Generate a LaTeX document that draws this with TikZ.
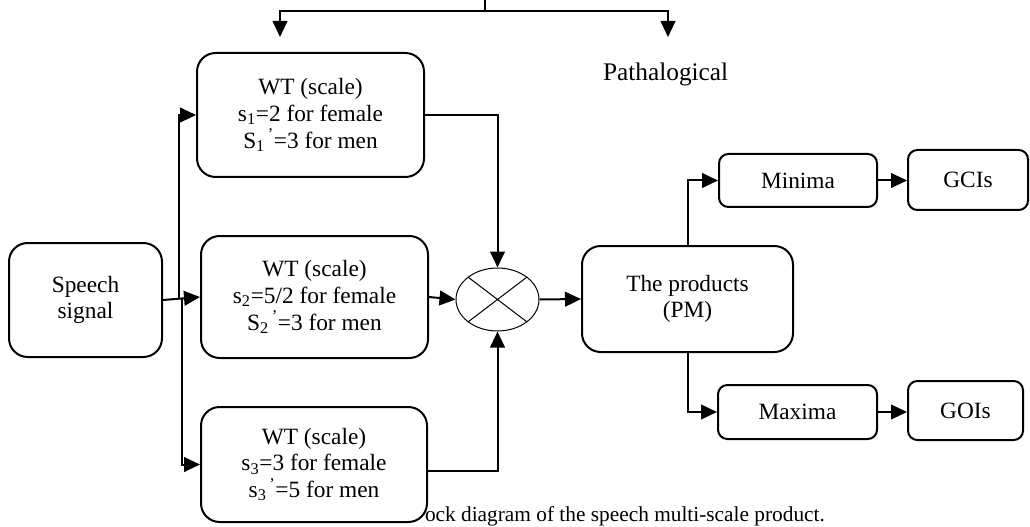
\documentclass[tikz,border=0pt]{standalone}
\usepackage{fontspec}
\setmainfont{Liberation Serif}
\usetikzlibrary{arrows.meta,shapes.geometric}

\tikzset{every picture/.style={line width=1.5pt}}
\tikzset{
  blk/.style={draw, rounded corners=14pt, align=center, inner sep=0pt,
    font=\fontsize{17.5}{20}\selectfont},
  sblk/.style={draw, rounded corners=7pt, align=center, inner sep=0pt,
    font=\fontsize{17.5}{20}\selectfont},
  arr/.style={-{Triangle[length=12pt,width=11pt]}}
}
\newcommand{\scsub}[2]{#1\textsubscript{#2}\textsuperscript{\,’}}

\begin{document}
\begin{tikzpicture}[x=0.75pt,y=0.75pt,yscale=-1,xscale=1]
\useasboundingbox (0,0) rectangle (1030,527);

% Caption
\node (cap) [anchor=base west, inner sep=0pt, font=\fontsize{16}{18}\selectfont] at (424,521) {ock diagram of the speech multi-scale product.};

%Shape: Rounded Rect
\node (speech) [blk, minimum width=114.75pt, minimum height=85.5pt] at (85.5,300) {Speech\\signal};
%Shape: Rounded Rect
\node (wt1) [blk, fill=white, minimum width=170.25pt, minimum height=93pt] at (310.5,115) {WT (scale)\\s\textsubscript{1}=2 for female\\\scsub{S}{1}=3 for men};
%Shape: Rounded Rect
\node (wt2) [blk, fill=white, minimum width=170.25pt, minimum height=91.5pt] at (314.5,297) {WT (scale)\\s\textsubscript{2}=5/2 for female\\\scsub{S}{2}=3 for men};
%Shape: Rounded Rect
\node (wt3) [blk, fill=white, minimum width=169.5pt, minimum height=86.25pt] at (314,464.5) {WT (scale)\\s\textsubscript{3}=3 for female\\\scsub{s}{3}=5 for men};
%Shape: Ellipse
\node (mix) [draw, ellipse, line width=0.75pt, minimum width=62.25pt, minimum height=47.25pt, inner sep=0pt] at (497.5,299.5) {};
\draw [line width=0.75pt] (mix.north west) -- (mix.south east) (mix.north east) -- (mix.south west);
%Shape: Rounded Rect
\node (pm) [blk, minimum width=158.25pt, minimum height=79.5pt] at (687.5,299) {The products\\(PM)};
%Shape: Rounded Rect
\node (minima) [sblk, minimum width=118.5pt, minimum height=39.75pt] at (798,180.5) {Minima};
\node (gci) [sblk, minimum width=90pt, minimum height=45pt] at (968,180) {GCIs};
\node (maxima) [sblk, minimum width=119.25pt, minimum height=40.5pt] at (797.5,412) {Maxima};
\node (goi) [sblk, minimum width=86.25pt, minimum height=44.25pt] at (965.5,410.5) {GOIs};

% Text Node
\node (patho) [anchor=west, inner sep=0pt, font=\fontsize{19}{22}\selectfont] at (602,74) {Pathalogical};

%Top branch
\coordinate (top) at (485,0);
\coordinate (tl) at (280,37);
\coordinate (tr) at (668,37);
\coordinate (w3o) at (427,471);
\draw (top) -- (485,11);
\draw [arr] (485,11) -| (tl);
\draw [arr] (485,11) -| (tr);

%Straight Lines
\draw [arr] (speech.east) -- (wt2.west);
\draw [arr] (179,298) |- (wt1.west);
\draw [arr] (182,298) |- (wt3.west);
\draw [arr] (wt1.east) -| (mix.north);
\draw [arr] (wt2.east) -- (mix.west);
\draw [arr] (w3o) -| (mix.south);
\draw [arr] (mix.east) -- (pm.west);
\draw [arr] (pm.north) |- (minima.west);
\draw [arr] (pm.south) |- (maxima.west);
\draw [arr] (minima.east) -- (minima.east -| gci.west);
\draw [arr] (maxima.east) -- (maxima.east -| goi.west);

\end{tikzpicture}
\end{document}
